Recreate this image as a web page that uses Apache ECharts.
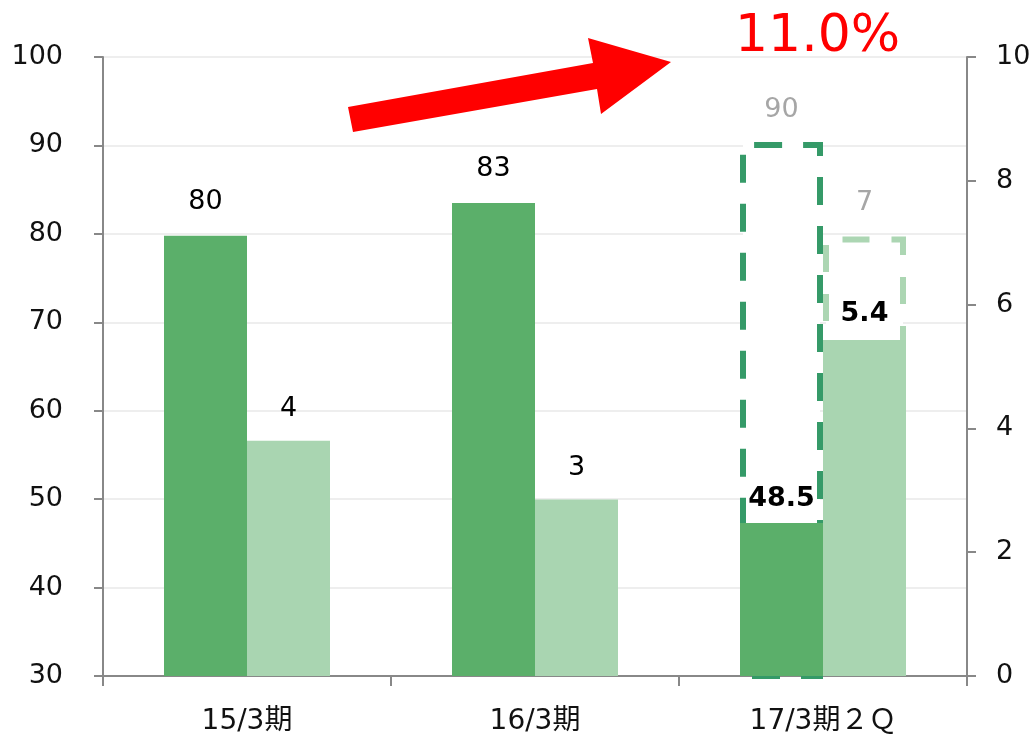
<!DOCTYPE html>
<html>
<head>
<meta charset="utf-8">
<script src="https://cdn.jsdelivr.net/npm/echarts@6/dist/echarts.min.js"></script>
<style>
html,body{margin:0;padding:0;background:#fff;}
#chart{width:1034px;height:736px;}
</style>
</head>
<body>
<div id="chart"></div>
<script>
// ---- data ----
const categories = ['15/3期', '16/3期', '17/3期２Ｑ'];
const salesValues = [79.8, 83.5, 47.3];          // left axis (dark green bars)
const salesLabels = ['80', '83', '48.5'];
const profitValues = [3.8, 2.85, 5.43];          // right axis (light green bars)
const profitLabels = ['4', '3', '5.4'];
const salesTarget = [null, null, 90.4];          // dashed target, left axis
const salesTargetLabels = ['', '', '90'];
const profitTarget = [null, null, 7.1];          // dashed target, right axis
const profitTargetLabels = ['', '', '7'];
const leftTicks = { min: 30, max: 100, interval: 10 };
const rightTicks = { min: 0, max: 10, interval: 2 };
const growthText = '11.0%';

const FONT = "'DejaVu Sans', 'Noto Sans CJK JP', sans-serif";
const DARK = '#5baf6a', LIGHT = '#a9d5b1';
const DARK_DASH = '#359a68', LIGHT_DASH = '#acd6b3';
const BW = 83;

function items(values, labels, boldIndex, normalDist, boldDist) {
  return values.map((v, i) => ({
    value: v,
    label: {
      formatter: labels[i],
      fontWeight: i === boldIndex ? 'bold' : 'normal',
      distance: i === boldIndex ? boldDist : normalDist
    }
  }));
}

const chart = echarts.init(document.getElementById('chart'), null, { renderer: 'canvas' });
chart.setOption({
  animation: false,
  backgroundColor: '#fff',
  textStyle: { fontFamily: FONT },
  grid: { left: 103, right: 67, top: 57, bottom: 60, containLabel: false },
  xAxis: [
    {
      type: 'category', data: categories, position: 'bottom',
      axisLine: { lineStyle: { color: '#888', width: 2 } },
      axisTick: { show: true, length: 10, lineStyle: { color: '#888', width: 2 } },
      axisLabel: { color: '#111', fontSize: 28, fontFamily: FONT, margin: 32 },
      splitLine: { show: false }
    },
    { type: 'category', data: categories, show: false, position: 'bottom' }
  ],
  yAxis: [
    {
      type: 'value', position: 'left', min: leftTicks.min, max: leftTicks.max, interval: leftTicks.interval,
      axisLine: { show: true, lineStyle: { color: '#888', width: 2 } },
      axisTick: { show: true, length: 9, lineStyle: { color: '#888', width: 2 } },
      axisLabel: { color: '#111', fontSize: 27, fontFamily: FONT, margin: 40 },
      splitLine: { show: true, lineStyle: { color: '#eeeeee', width: 2 } }
    },
    {
      type: 'value', position: 'right', min: rightTicks.min, max: rightTicks.max, interval: rightTicks.interval,
      axisLine: { show: true, lineStyle: { color: '#888', width: 2 } },
      axisTick: { show: true, length: 9, lineStyle: { color: '#888', width: 2 } },
      axisLabel: { color: '#111', fontSize: 27, fontFamily: FONT, margin: 29 },
      splitLine: { show: false }
    }
  ],
  series: [
    {
      type: 'bar', xAxisIndex: 1, yAxisIndex: 0, z: 1, barWidth: BW, barGap: '0%',
      data: items(salesTarget, salesTargetLabels, -1, 18, 18),
      itemStyle: { color: '#ffffff', borderColor: DARK_DASH, borderWidth: 6, borderType: [28, 21], borderDashOffset: 40 },
      label: { show: true, position: 'top', color: '#a6a6a6', fontSize: 27, fontFamily: FONT },
      emphasis: { disabled: true }
    },
    {
      type: 'bar', xAxisIndex: 1, yAxisIndex: 1, z: 1, barWidth: BW, barGap: '0%',
      data: items(profitTarget, profitTargetLabels, -1, 20, 20),
      itemStyle: { color: '#ffffff', borderColor: LIGHT_DASH, borderWidth: 6, borderType: [27, 22], borderDashOffset: 44 },
      label: { show: true, position: 'top', color: '#a6a6a6', fontSize: 27, fontFamily: FONT },
      emphasis: { disabled: true }
    },
    {
      type: 'bar', xAxisIndex: 0, yAxisIndex: 0, z: 2, barWidth: BW, barGap: '0%',
      data: items(salesValues, salesLabels, 2, 20, 11),
      itemStyle: { color: DARK },
      label: { show: true, position: 'top', color: '#000', fontSize: 27, fontFamily: FONT },
      emphasis: { disabled: true }
    },
    {
      type: 'bar', xAxisIndex: 0, yAxisIndex: 1, z: 2, barWidth: BW, barGap: '0%',
      data: items(profitValues, profitLabels, 2, 18, 12),
      itemStyle: { color: LIGHT },
      label: { show: true, position: 'top', color: '#000', fontSize: 27, fontFamily: FONT },
      emphasis: { disabled: true }
    }
  ],
  graphic: [
    {
      type: 'polygon', z: 10,
      shape: { points: [[348,107],[593,63],[588,38],[671,62],[601,114],[597,89],[353,132]] },
      style: { fill: '#ff0000' }
    },
    {
      type: 'text', z: 10, x: 735, y: 37,
      style: { text: growthText, font: "52px 'DejaVu Sans'", fill: '#ff0000', align: 'left', verticalAlign: 'middle' }
    }
  ]
});
</script>
</body>
</html>
